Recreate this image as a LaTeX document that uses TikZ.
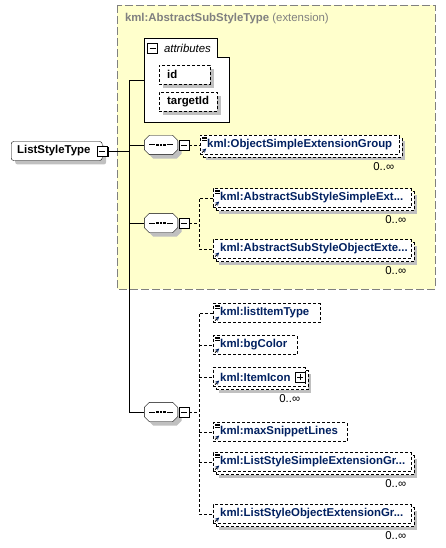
\documentclass[tikz,border=0pt]{standalone}
\usepackage{fontspec}
\setmainfont{Liberation Sans}
\usetikzlibrary{positioning}

\definecolor{elemblue}{RGB}{0,32,96}
\definecolor{extyellow}{RGB}{255,255,204}
\definecolor{extgray}{RGB}{128,128,128}
\definecolor{shadegray}{RGB}{192,192,192}

\newcommand\textlines{%
  \foreach \l in {1.5pt,3pt,4.5pt}
    \draw[solid,line width=.6pt] ([shift={(2pt,-\l)}]path picture bounding box.north west) -- +(4.5pt,0pt);}
\newcommand\refarrow{%
  \draw[solid,line width=.9pt,-stealth] ([shift={(2pt,2pt)}]path picture bounding box.south west) -- +(4pt,4pt);}
\newcommand\octagon[2]{%
  \path[#2] ([xshift=5pt]#1.north west) -- ([xshift=-5pt]#1.north east) -- ([yshift=-5pt]#1.north east)
    -- ([yshift=5pt]#1.south east) -- ([xshift=-5pt]#1.south east) -- ([xshift=5pt]#1.south west)
    -- ([yshift=5pt]#1.south west) -- ([yshift=-5pt]#1.north west) -- cycle;}
\newcommand\seqnode[2]{%
  \node[seqbox] (#1) at (#2) {};
  \octagon{#1}{fill=shadegray,transform canvas={shift={(4pt,-4pt)}}}
  \octagon{#1}{draw,fill=white}
  \draw[line width=1pt] ([xshift=5pt]#1.west) -- ([xshift=-6pt]#1.center);
  \draw[line width=1pt] ([xshift=6pt]#1.center) -- ([xshift=-5pt]#1.east);
  \foreach \d in {-3.5pt,0pt,3.5pt}
    \fill ([xshift=\d]#1.center) +(-1.1pt,-1.1pt) rectangle +(1.1pt,1.1pt);}

\tikzset{
  dropgray/.style={preaction={fill=shadegray,transform canvas={shift={(4pt,-4pt)}}}},
  stacked/.style={preaction={fill=shadegray,transform canvas={shift={(6pt,-6pt)}}},
    preaction={draw,dash pattern=on 3pt off 2pt,fill=white,transform canvas={shift={(3pt,-3pt)}}}},
  elem/.style={draw,dash pattern=on 3pt off 2pt,fill=white,anchor=west,minimum height=19pt,
    inner xsep=7pt,inner ysep=0pt,text width=#1,align=left,
    font=\bfseries,text=elemblue,path picture={\refarrow}},
  simple/.style={path picture={\textlines\refarrow}},
  attr/.style={draw,dash pattern=on 3pt off 2pt,fill=white,dropgray,anchor=west,minimum height=19pt,
    inner xsep=8pt,inner ysep=0pt,text width=#1,align=left,font=\bfseries},
  globel/.style={draw,fill=white,dropgray,rounded corners=2.5pt,anchor=west,minimum height=19pt,
    inner xsep=6pt,inner ysep=0pt,text width=79pt,align=left,font=\bfseries},
  seqbox/.style={minimum width=33pt,minimum height=19pt,inner sep=0pt},
  tog/.style={draw,fill=white,minimum size=10pt,inner sep=0pt,
    path picture={\draw ([xshift=2pt]path picture bounding box.west) -- ([xshift=-2pt]path picture bounding box.east);}},
  togsh/.style={tog,preaction={fill=black,transform canvas={shift={(1.2pt,-1.2pt)}}}},
  togplus/.style={togsh,
    path picture={\draw ([xshift=2pt]path picture bounding box.west) -- ([xshift=-2pt]path picture bounding box.east);
      \draw ([yshift=2pt]path picture bounding box.south) -- ([yshift=-2pt]path picture bounding box.north);}},
  link/.style={dash pattern=on 3pt off 2pt},
  occ/.style={anchor=north east,inner sep=0pt}
}

\begin{document}
\fontsize{11.4}{13.5}\selectfont
\hyphenpenalty=10000 \exhyphenpenalty=10000
\begin{tikzpicture}[x=1pt,y=-1pt]
  \useasboundingbox (0,0) rectangle (446,548);

  % extension base
  \draw[extgray,dash pattern=on 8pt off 3pt,fill=extyellow] (117,5) rectangle (435,289);
  \node[anchor=west,text=extgray] (exttitle) at (121,19) {\textbf{kml:AbstractSubStyleType} (extension)};

  % attributes
  \draw[fill=white] (144,38) -- (217,38) -- (217,57) -- (229,57) -- (229,122) -- (144,122) -- cycle;
  \node[tog] (attrtog) at (152.5,48.5) {};
  \node[anchor=west,font=\itshape] (attrlbl) at (160,48) {attributes};
  \node[attr=35] (id) at (159,74.5) {id};
  \node[attr=42] (targetId) at (159,102) {targetId};
  \coordinate (attrin) at (144,80);
  \coordinate (spine) at (129,80);

  % the type
  \node[globel] (lst) at (11,151) {ListStyleType};
  \node[togsh] (lstm) at (lst.east) {};

  % sequences
  \seqnode{sq1}{161,145}
  \node[togsh,right=1pt of sq1] (sq1m) {};
  \seqnode{sq2}{161,223}
  \node[togsh,right=1pt of sq2] (sq2m) {};
  \seqnode{sq3}{161,412}
  \node[togsh,right=1pt of sq3] (sq3m) {};
  \coordinate (br2) at (199,223);
  \coordinate (br3) at (199,412);

  % elements
  \node[elem=185,stacked,simple] (e1) at (200,145) {kml:ObjectSimpleExtensionGroup};
  \node[elem=184,stacked,simple] (e21) at (213,198) {kml:AbstractSubStyleSimpleExt...};
  \node[elem=184,stacked] (e22) at (213,249) {kml:AbstractSubStyleObjectExte...};
  \node[elem=93,simple] (e31) at (213,313) {kml:listItemType};
  \node[elem=70,simple] (e32) at (213,345) {kml:bgColor};
  \node[elem=78,stacked] (e33) at (213,377) {kml:ItemIcon};
  \node[togplus,anchor=east] (e33p) at (e33.east) {};
  \node[elem=120,simple] (e34) at (213,432) {kml:maxSnippetLines};
  \node[elem=184,stacked,simple] (e35) at (213,462) {kml:ListStyleSimpleExtensionGr...};
  \node[elem=184,stacked] (e36) at (213,514) {kml:ListStyleObjectExtensionGr...};

  % occurrences
  \foreach \n in {e1,e21,e22,e33,e35,e36}
    \node[occ] (\n o) at ([shift={(-5,8)}]\n.south east) {0..∞};

  % connectors
  \draw (lstm.east) -- (lstm.east -| spine);
  \draw (attrin) -- (spine) -- (spine |- sq3.west) -- (sq3.west);
  \draw (spine |- sq1.west) -- (sq1.west);
  \draw (spine |- sq2.west) -- (sq2.west);
  \draw[link] (sq1m.east) -- (e1.west);
  \draw[link] (sq2m.east) -- (br2);
  \draw[link] (e21.west) -| (br2) |- (e22.west);
  \draw[link] (sq3m.east) -- (br3);
  \draw[link] (e31.west) -| (br3) |- (e36.west);
  \foreach \n in {e32,e33,e34,e35}
    \draw[link] (br3 |- \n.west) -- (\n.west);
\end{tikzpicture}
\end{document}
